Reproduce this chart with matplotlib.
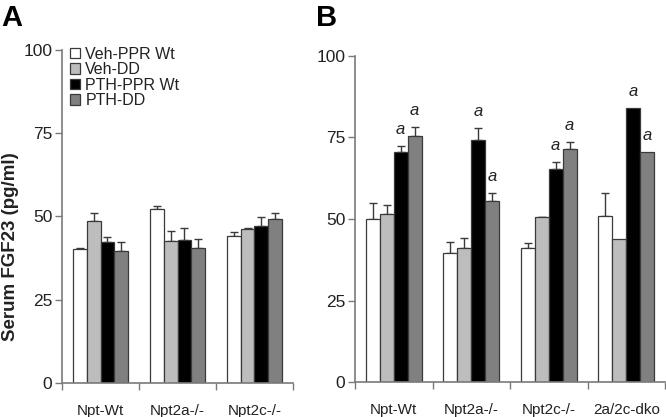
import numpy as np
import matplotlib.pyplot as plt
from matplotlib.patches import Patch

plt.rcParams["font.family"] = ["Liberation Sans", "DejaVu Sans"]

# ==========================
# DATA
# ==========================
series_names = ["Veh-PPR Wt", "Veh-DD", "PTH-PPR Wt", "PTH-DD"]
series_colors = ["#ffffff", "#bdbdbd", "#000000", "#808080"]

groups_a = ["Npt-Wt", "Npt2a-/-", "Npt2c-/-"]
vals_a = [
    [40.2, 52.4, 44.1],   # Veh-PPR Wt
    [48.6, 42.6, 46.1],   # Veh-DD
    [42.2, 42.9, 47.2],   # PTH-PPR Wt
    [39.6, 40.6, 49.1],   # PTH-DD
]
errs_a = [
    [0.4, 0.8, 1.3],
    [2.6, 3.0, 0.3],
    [1.7, 3.7, 2.5],
    [2.6, 2.5, 2.1],
]

groups_b = ["Npt-Wt", "Npt2a-/-", "Npt2c-/-", "2a/2c-dko"]
vals_b = [
    [50.0, 39.5, 41.1, 50.9],
    [51.6, 41.0, 50.5, 44.0],
    [70.5, 74.2, 65.2, 84.1],
    [75.3, 55.4, 71.4, 70.6],
]
errs_b = [
    [4.8, 3.5, 1.7, 7.1],
    [2.8, 3.1, 0.2, 0.0],
    [1.8, 3.8, 2.3, 0.0],
    [2.8, 2.5, 2.2, 0.0],
]
# significance letter "a" shown on these series in panel B
sig_b = [False, False, True, True]

yticks = [0, 25, 50, 75, 100]

# ==========================
# STYLE
# ==========================
SPINE_COLOR = "#7a7a7a"
EDGE_COLOR = "#3a3a3a"
TEXT_COLOR = "#222222"
XLABEL_SIZE = 11
YTICK_SIZE = 12.5
LEGEND_SIZE = 11.5
BAR_W = 0.18


def draw_panel(ax, groups, vals, errs, sig=None):
    x = np.arange(len(groups))
    offsets = (np.arange(4) - 1.5) * BAR_W
    for i in range(4):
        xs = x + offsets[i]
        v = np.array(vals[i])
        e = np.array(errs[i])
        ax.bar(xs, v, BAR_W, color=series_colors[i], edgecolor=EDGE_COLOR,
               linewidth=0.9, zorder=2)
        m = e > 0
        ax.errorbar(xs[m], v[m], yerr=[np.zeros(m.sum()), e[m]], fmt="none",
                    ecolor=EDGE_COLOR, elinewidth=1.0, capsize=3, capthick=1.0,
                    zorder=1)
        if sig is not None and sig[i]:
            for xx, top in zip(xs, v + e):
                ax.text(xx, top + 5, "a", ha="center", va="center",
                        style="italic", fontsize=12, color=TEXT_COLOR)

    ax.set_xlim(-0.5, len(groups) - 0.5)
    ax.set_ylim(0, 100)
    ax.set_yticks(yticks)
    ax.set_xticks(x)
    ax.set_xticklabels(groups)
    ax.set_xticks(np.arange(len(groups) + 1) - 0.5, minor=True)
    ax.tick_params(axis="x", which="major", length=0, pad=15,
                   labelsize=XLABEL_SIZE, labelcolor=TEXT_COLOR)
    ax.tick_params(axis="x", which="minor", length=5, width=1,
                   color=SPINE_COLOR, direction="out")
    ax.tick_params(axis="y", length=5, width=1, color=SPINE_COLOR,
                   labelsize=YTICK_SIZE, labelcolor=TEXT_COLOR, pad=2)
    for s in ["top", "right"]:
        ax.spines[s].set_visible(False)
    for s in ["left", "bottom"]:
        ax.spines[s].set_color(SPINE_COLOR)
        ax.spines[s].set_linewidth(1.2)


fig = plt.figure(figsize=(6.66, 4.17), dpi=100)

ax_a = fig.add_axes([62 / 666, 1 - 383 / 417, 231 / 666, 333 / 417])
draw_panel(ax_a, groups_a, vals_a, errs_a)
ax_a.set_ylabel("Serum FGF23 (pg/ml)", fontsize=13.5, fontweight="bold",
                color=TEXT_COLOR)
ax_a.yaxis.set_label_coords(-43 / 231, 0.41)

handles = [Patch(facecolor=c, edgecolor=EDGE_COLOR, linewidth=0.9)
           for c in series_colors]
ax_a.legend(handles, series_names, loc="upper left",
            bbox_to_anchor=(0.035, 1.01), frameon=False, fontsize=LEGEND_SIZE,
            handlelength=0.6, handleheight=0.6, handletextpad=0.35,
            labelspacing=0.03, borderpad=0, borderaxespad=0,
            labelcolor=TEXT_COLOR)

ax_b = fig.add_axes([355 / 666, 1 - 382.3 / 417, 310 / 666, 326.6 / 417])
draw_panel(ax_b, groups_b, vals_b, errs_b, sig_b)

fig.text(1 / 666, 1 - 4 / 417, "A", fontsize=21, fontweight="bold",
         ha="left", va="top")
fig.text(316 / 666, 1 - 4 / 417, "B", fontsize=21, fontweight="bold",
         ha="left", va="top")

fig.savefig("out.png", dpi=100)
